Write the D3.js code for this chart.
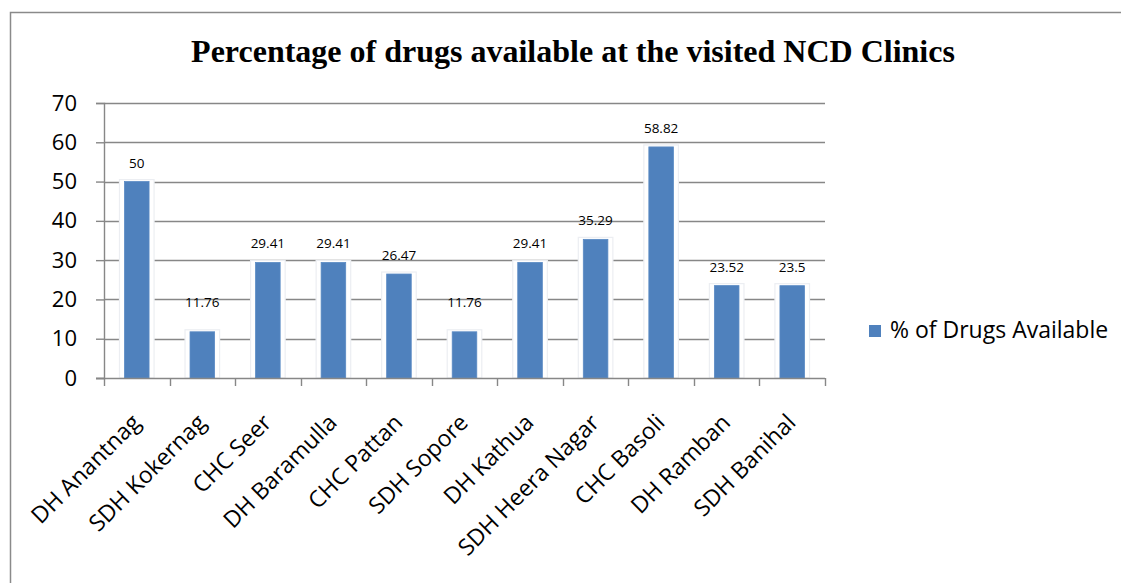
<!DOCTYPE html>
<html>
<head>
<meta charset="utf-8">
<script src="https://cdn.jsdelivr.net/npm/d3@7"></script>
<style>
  html, body { margin: 0; padding: 0; background: #fff; }
  svg { display: block; }
</style>
</head>
<body>
<svg id="chart" width="1121" height="583"></svg>
<script>
const categories = ["DH Anantnag", "SDH Kokernag", "CHC Seer", "DH Baramulla", "CHC Pattan",
  "SDH Sopore", "DH Kathua", "SDH Heera Nagar", "CHC Basoli", "DH Ramban", "SDH Banihal"];
const values = [50, 11.76, 29.41, 29.41, 26.47, 11.76, 29.41, 35.29, 58.82, 23.52, 23.5];
const valueLabels = ["50", "11.76", "29.41", "29.41", "26.47", "11.76", "29.41", "35.29", "58.82", "23.52", "23.5"];
const yTicks = [0, 10, 20, 30, 40, 50, 60, 70];
const seriesName = "% of Drugs Available";
const title = "Percentage of drugs available at the visited NCD Clinics";

const W = 1121, H = 583;
const svg = d3.select("#chart");
const sans = "'Open Sans', 'Noto Sans', sans-serif";
const gridColor = "#878787";
const barColor = "#4F81BD";

// outer chart border
svg.append("rect").attr("x", 10.5).attr("y", 12.5).attr("width", W + 20).attr("height", H + 20)
  .attr("fill", "none").attr("stroke", "#8a8a8a").attr("stroke-width", 1.5);

// title
svg.append("text").attr("x", 573).attr("y", 62).attr("text-anchor", "middle")
  .attr("font-family", "'Liberation Serif', 'Times New Roman', serif")
  .attr("font-weight", "bold").attr("font-size", 32).attr("fill", "#000").text(title);

const plot = { left: 104, right: 825, top: 103, bottom: 378 };
const x = d3.scaleBand().domain(categories).range([plot.left, plot.right]).padding(0);
const y = d3.scaleLinear().domain([0, 70]).range([plot.bottom, plot.top]);

// gridlines
svg.append("g").selectAll("line").data(yTicks.filter(d => d > 0)).join("line")
  .attr("x1", plot.left).attr("x2", plot.right)
  .attr("y1", d => Math.round(y(d)) + 0.5).attr("y2", d => Math.round(y(d)) + 0.5)
  .attr("stroke", gridColor).attr("stroke-width", 1.4);

// y axis
const yAxis = svg.append("g").attr("transform", `translate(${plot.left},0)`)
  .call(d3.axisLeft(y).tickValues(yTicks).tickSize(8).tickPadding(19));
yAxis.select(".domain").attr("stroke", gridColor).attr("stroke-width", 1.4);
yAxis.selectAll(".tick line").attr("stroke", gridColor).attr("stroke-width", 1.4);
yAxis.selectAll(".tick text").attr("font-family", sans).attr("font-size", 22).attr("fill", "#000");

// bars with soft halo
const bw = x.step() * 0.375;
const bars = svg.append("g");
bars.selectAll("rect.halo").data(values).join("rect").attr("class", "halo")
  .attr("x", (d, i) => x(categories[i]) + x.bandwidth() / 2 - bw / 2 - 5)
  .attr("y", d => y(d) - 2)
  .attr("width", bw + 10)
  .attr("height", d => plot.bottom - y(d) + 2)
  .attr("fill", "#ffffff").attr("stroke", "#eceef2").attr("stroke-width", 1.2);
bars.selectAll("rect.bar").data(values).join("rect").attr("class", "bar")
  .attr("x", (d, i) => x(categories[i]) + x.bandwidth() / 2 - bw / 2)
  .attr("y", d => y(d))
  .attr("width", bw)
  .attr("height", d => plot.bottom - y(d))
  .attr("fill", barColor).attr("stroke", "#5a8ac4").attr("stroke-width", 0.8);

// x axis
const xAxisG = svg.append("g");
xAxisG.append("line").attr("x1", plot.left - 8).attr("x2", plot.right)
  .attr("y1", plot.bottom + 0.5).attr("y2", plot.bottom + 0.5)
  .attr("stroke", gridColor).attr("stroke-width", 1.4);
const boundaries = d3.range(categories.length + 1).map(i => plot.left + i * x.step());
xAxisG.selectAll("line.tk").data(boundaries).join("line").attr("class", "tk")
  .attr("x1", d => Math.round(d) + 0.5).attr("x2", d => Math.round(d) + 0.5)
  .attr("y1", plot.bottom).attr("y2", plot.bottom + 8)
  .attr("stroke", gridColor).attr("stroke-width", 1.4);
xAxisG.selectAll("text").data(categories).join("text")
  .attr("transform", d => `translate(${x(d) + x.bandwidth() / 2 + 5},${plot.bottom + 46}) rotate(-45)`)
  .attr("text-anchor", "end").attr("font-family", sans).attr("font-size", 23).attr("fill", "#000")
  .text(d => d);

// value labels
svg.append("g").selectAll("text").data(values).join("text")
  .attr("x", (d, i) => x(categories[i]) + x.bandwidth() / 2)
  .attr("y", d => Math.min(y(d) - 14, y(18)))
  .attr("text-anchor", "middle").attr("font-family", sans).attr("font-size", 13.5).attr("fill", "#000")
  .text((d, i) => valueLabels[i]);

// legend
svg.append("rect").attr("x", 869).attr("y", 325).attr("width", 12).attr("height", 12).attr("fill", barColor);
svg.append("text").attr("x", 890).attr("y", 338).attr("font-family", sans).attr("font-size", 23)
  .attr("fill", "#000").text(seriesName);
</script>
</body>
</html>
